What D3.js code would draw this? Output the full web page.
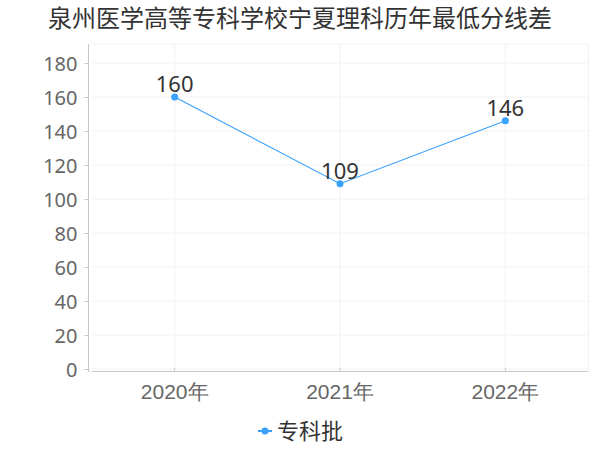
<!DOCTYPE html>
<html><head><meta charset="utf-8">
<script src="https://cdn.jsdelivr.net/npm/d3@7"></script>
<style>body{margin:0;background:#fff}svg{display:block;font-family:"Noto Sans CJK SC","Noto Sans",sans-serif}</style>
</head><body><svg id="c" width="600" height="450"></svg>
<script>
const title = "泉州医学高等专科学校宁夏理科历年最低分线差";
const categories = ["2020年","2021年","2022年"];
const seriesName = "专科批";
const values = [160,109,146];
const yTicks = [0,20,40,60,80,100,120,140,160,180];
const color = "#3ba1ff";

const svg = d3.select("#c");
const pL = 92, pR = 588, pT = 44, pB = 369;
const x = d3.scaleBand().domain(categories).range([pL, pR]);
const y = d3.scaleLinear().domain([0,180]).range([pB, 63]);

// grid
const g = svg.append("g");
g.selectAll(".hg").data(yTicks).join("line")
 .attr("x1", pL).attr("x2", pR).attr("y1", d=>y(d)).attr("y2", d=>y(d))
 .attr("stroke","#f2f2f2").attr("stroke-width",1);
g.append("line").attr("x1",pL).attr("x2",pR).attr("y1",pT).attr("y2",pT).attr("stroke","#f2f2f2");
g.selectAll(".vg").data(categories).join("line")
 .attr("x1", d=>x(d)+x.bandwidth()/2).attr("x2", d=>x(d)+x.bandwidth()/2)
 .attr("y1", pT).attr("y2", 372).attr("stroke","#f2f2f2");
g.append("line").attr("x1",pR+0.5).attr("x2",pR+0.5).attr("y1",pT).attr("y2",372).attr("stroke","#f2f2f2");

// y axis
const ya = svg.append("g").attr("transform","translate(88.5,0)")
 .call(d3.axisLeft(y).tickValues(yTicks).tickSize(4).tickPadding(7));
ya.select(".domain").attr("d",`M0,${pT}V372`).attr("stroke","#c8c8c8");
ya.selectAll(".tick line").attr("stroke","#c8c8c8");
ya.selectAll(".tick text").attr("fill","#666").attr("font-size",20).attr("font-family","Noto Sans, sans-serif").attr("dy","0.35em");

// x axis
const xa = svg.append("g").attr("transform","translate(0,371.5)")
 .call(d3.axisBottom(x).tickSize(4).tickPadding(6));
xa.select(".domain").attr("d",`M${pL},0H${pR}`).attr("stroke","#c8c8c8");
xa.selectAll(".tick line").attr("stroke","#c8c8c8").attr("y2",-4);
xa.selectAll(".tick text").attr("fill","#666").attr("font-size",21).attr("dy",0).attr("y",27.5);

// line
const pts = categories.map((c,i)=>[x(c)+x.bandwidth()/2, y(values[i])]);
svg.append("path").attr("d", d3.line()(pts)).attr("fill","none").attr("stroke",color).attr("stroke-width",1.2);
svg.selectAll(".pt").data(pts).join("circle").attr("cx",d=>d[0]).attr("cy",d=>d[1]).attr("r",3.5).attr("fill",color);
svg.selectAll(".lbl").data(values).join("text")
 .attr("x",(d,i)=>pts[i][0]).attr("y",(d,i)=>pts[i][1]-5)
 .attr("text-anchor","middle").attr("fill","#333").attr("font-size",22)
 .attr("font-family","Noto Sans, sans-serif").text(d=>d);

// title
svg.append("text").attr("x",300).attr("y",27).attr("text-anchor","middle")
 .attr("fill","#333").attr("font-size",24).text(title);

// legend
svg.append("line").attr("x1",258).attr("x2",272).attr("y1",431).attr("y2",431).attr("stroke",color).attr("stroke-width",2);
svg.append("circle").attr("cx",265).attr("cy",431).attr("r",3.5).attr("fill",color);
svg.append("text").attr("x",277).attr("y",439).attr("fill","#333").attr("font-size",22).text(seriesName);
</script></body></html>
